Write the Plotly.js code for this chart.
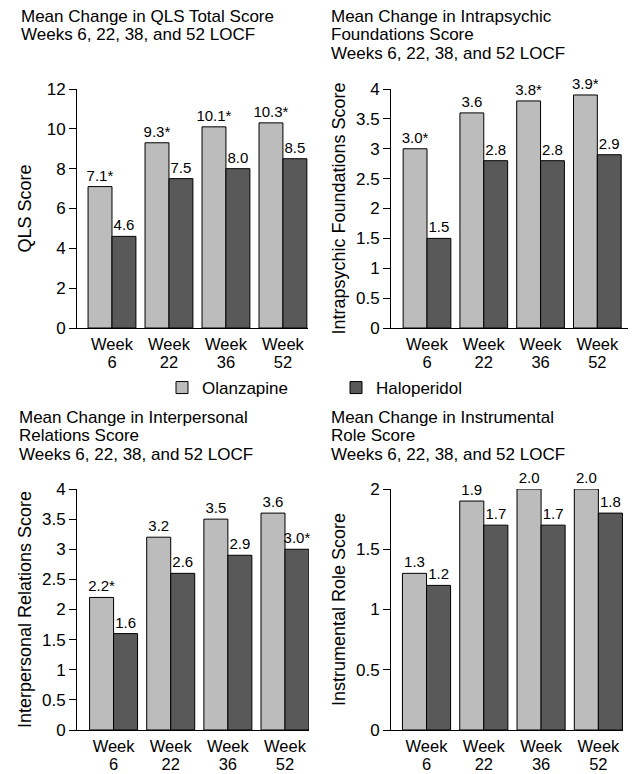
<!DOCTYPE html>
<html>
<head>
<meta charset="utf-8">
<script src="https://cdn.plot.ly/plotly-3.0.1.min.js"></script>
<style>html,body{margin:0;padding:0;background:#fff;}#chart{width:639px;height:774px;}</style>
</head>
<body>
<div id="chart"></div>
<script>
// ---- data ----
const weeks = ["Week 6", "Week 22", "Week 36", "Week 52"];
const weekTickLines = [["Week", "6"], ["Week", "22"], ["Week", "36"], ["Week", "52"]];
const seriesNames = ["Olanzapine", "Haloperidol"];

const qlsOlz = [7.1, 9.3, 10.1, 10.3];
const qlsHal = [4.6, 7.5, 8.0, 8.5];
const qlsOlzSig = [1, 1, 1, 1];
const qlsHalSig = [0, 0, 0, 0];

const ifOlz = [3.0, 3.6, 3.8, 3.9];
const ifHal = [1.5, 2.8, 2.8, 2.9];
const ifOlzSig = [1, 0, 1, 1];
const ifHalSig = [0, 0, 0, 0];

const irOlz = [2.2, 3.2, 3.5, 3.6];
const irHal = [1.6, 2.6, 2.9, 3.0];
const irOlzSig = [1, 0, 0, 0];
const irHalSig = [0, 0, 0, 1];

const roleOlz = [1.3, 1.9, 2.0, 2.0];
const roleHal = [1.2, 1.7, 1.7, 1.8];
const roleOlzSig = [0, 0, 0, 0];
const roleHalSig = [0, 0, 0, 0];

const panelTitles = [
  ["Mean Change in QLS Total Score", "Weeks 6, 22, 38, and 52 LOCF"],
  ["Mean Change in Intrapsychic", "Foundations Score", "Weeks 6, 22, 38, and 52 LOCF"],
  ["Mean Change in Interpersonal", "Relations Score", "Weeks 6, 22, 38, and 52 LOCF"],
  ["Mean Change in Instrumental", "Role Score", "Weeks 6, 22, 38, and 52 LOCF"]
];
const yTitles = ["QLS Score", "Intrapsychic Foundations Score", "Interpersonal Relations Score", "Instrumental Role Score"];

// ---- styling ----
const FONT = "Liberation Sans, Arial, Helvetica, sans-serif";
const colOlz = "#bcbcbc";
const colHal = "#595959";

function sized(lines, px) {
  return lines.map(s => '<span style="font-size:' + px + 'px">' + s + '</span>').join("<br>");
}
function labels(vals, sig) {
  return vals.map((v, i) => v.toFixed(1) + (sig[i] ? "*" : ""));
}

const panels = [
  {olz: qlsOlz, hal: qlsHal, os: qlsOlzSig, hs: qlsHalSig},
  {olz: ifOlz, hal: ifHal, os: ifOlzSig, hs: ifHalSig},
  {olz: irOlz, hal: irHal, os: irOlzSig, hs: irHalSig},
  {olz: roleOlz, hal: roleHal, os: roleOlzSig, hs: roleHalSig}
];

const traces = [];
panels.forEach((p, k) => {
  const xa = k === 0 ? "x" : "x" + (k + 1);
  const ya = k === 0 ? "y" : "y" + (k + 1);
  traces.push({
    type: "bar", name: seriesNames[0], x: weeks, y: p.olz, xaxis: xa, yaxis: ya,
    marker: {color: colOlz, line: {color: "#000", width: 1}},
    text: labels(p.olz, p.os), textposition: "outside", cliponaxis: false, constraintext: "none",
    textfont: {family: FONT, size: 15, color: "#000"},
    showlegend: k === 0, legend: "legend", hoverinfo: "y"
  });
  traces.push({
    type: "bar", name: seriesNames[1], x: weeks, y: p.hal, xaxis: xa, yaxis: ya,
    marker: {color: colHal, line: {color: "#000", width: 1}},
    text: labels(p.hal, p.hs), textposition: "outside", cliponaxis: false, constraintext: "none",
    textfont: {family: FONT, size: 15, color: "#000"},
    showlegend: k === 0, legend: "legend2", hoverinfo: "y"
  });
});

const W = 639, H = 774;
function px2x(a, b) { return [a / W, b / W]; }
function px2y(top, bottom) { return [1 - bottom / H, 1 - top / H]; }

const xDom = [px2x(77, 308), px2x(391, 628), px2x(77, 309), px2x(391, 623)];
const yDom = [px2y(89, 328), px2y(89, 328), px2y(489, 730), px2y(489, 730)];
const xRanges = [[-0.614, 3.44], [-0.634, 3.54], [-0.64, 3.42], [-0.62, 3.43]];
const yRanges = [[0, 12], [0, 4], [0, 4], [0, 2]];
const yDticks = [2, 0.5, 0.5, 0.5];

const layout = {
  width: W, height: H,
  margin: {l: 0, r: 0, t: 0, b: 0},
  paper_bgcolor: "#fff", plot_bgcolor: "#fff",
  font: {family: FONT, size: 15, color: "#000"},
  barmode: "group", bargap: 0.16, bargroupgap: 0,
  legend: {orientation: "h", x: 162 / W, xanchor: "left", y: 1 - 388 / H, yanchor: "middle",
           font: {family: FONT, size: 17, color: "#000"}, bgcolor: "rgba(0,0,0,0)"},
  legend2: {orientation: "h", x: 336 / W, xanchor: "left", y: 1 - 388 / H, yanchor: "middle",
            font: {family: FONT, size: 17, color: "#000"}, bgcolor: "rgba(0,0,0,0)"},
  annotations: [],
  showlegend: true
};

const titlePos = [[19, 5], [329, 5], [17, 406], [329, 406]];
for (let k = 0; k < 4; k++) {
  const sfx = k === 0 ? "" : String(k + 1);
  layout["xaxis" + sfx] = {
    domain: xDom[k], anchor: "y" + sfx, type: "category", range: xRanges[k],
    tickmode: "array", tickvals: weeks, ticktext: weekTickLines.map(l => sized(l, 16.5)),
    ticklabelstandoff: 5,
    showline: true, linecolor: "#000", linewidth: 1, ticks: "", showgrid: false, zeroline: false,
    tickfont: {family: FONT, size: 13.4, color: "#000"}, fixedrange: true
  };
  layout["yaxis" + sfx] = {
    domain: yDom[k], anchor: "x" + sfx, range: yRanges[k], dtick: yDticks[k], tick0: 0,
    showline: true, linecolor: "#000", linewidth: 1, ticks: "outside", ticklen: 7, tickcolor: "#000",
    showgrid: false, zeroline: false,
    tickfont: {family: FONT, size: 17, color: "#000"},
    title: {text: yTitles[k], font: {family: FONT, size: 18, color: "#000"}},
    fixedrange: true
  };
  layout.annotations.push({
    xref: "paper", yref: "paper", x: titlePos[k][0] / W, y: 1 - titlePos[k][1] / H,
    xanchor: "left", yanchor: "top", align: "left", showarrow: false,
    text: sized(panelTitles[k], 17), font: {family: FONT, size: 14.2, color: "#000"}
  });
}

Plotly.newPlot("chart", traces, layout, {displayModeBar: false, staticPlot: true});
</script>
</body>
</html>
